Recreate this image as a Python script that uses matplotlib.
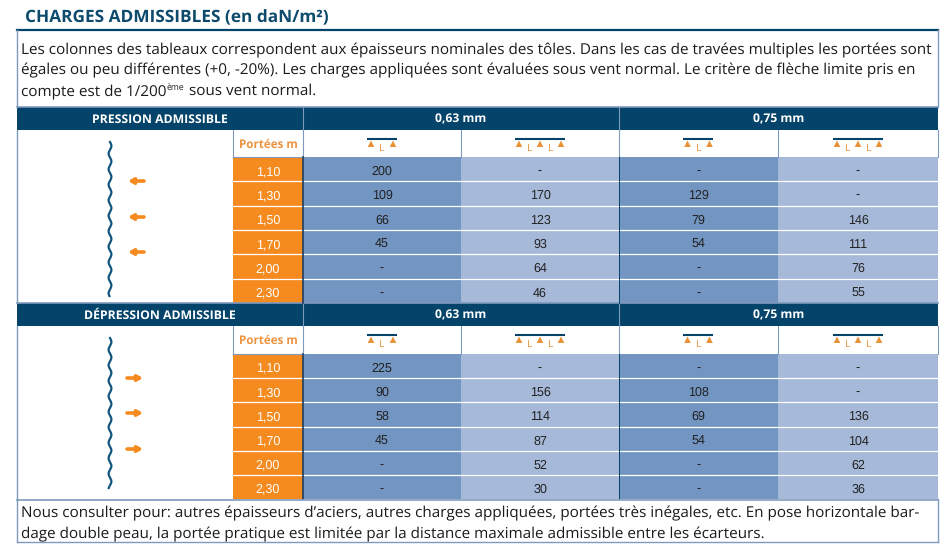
import matplotlib
matplotlib.use('Agg')
import matplotlib.pyplot as plt  # Importing the matplotlib library for plotting
import numpy as np  # Importing the numpy library for numerical operations
from matplotlib.patches import Rectangle, Polygon

plt.rcParams['text.hinting'] = 'none'  # Keeps text widths proportional to the font size

# Table contents
spans = ['1,10', '1,30', '1,50', '1,70', '2,00', '2,30']
thicknesses = ['0,63 mm', '0,75 mm']
pression_063_single = ['200', '109', '66', '45', '-', '-']
pression_063_multi = ['-', '170', '123', '93', '64', '46']
pression_075_single = ['-', '129', '79', '54', '-', '-']
pression_075_multi = ['-', '-', '146', '111', '76', '55']
depression_063_single = ['225', '90', '58', '45', '-', '-']
depression_063_multi = ['-', '156', '114', '87', '52', '30']
depression_075_single = ['-', '108', '69', '54', '-', '-']
depression_075_multi = ['-', '-', '136', '104', '62', '36']

title = 'CHARGES ADMISSIBLES (en daN/m²)'
intro = ['Les colonnes des tableaux correspondent aux épaisseurs nominales des tôles. Dans les cas de travées multiples les portées sont',
         'égales ou peu différentes (+0, -20%). Les charges appliquées sont évaluées sous vent normal. Le critère de flèche limite pris en']
intro_last = ['compte est de 1/200', 'ème', 'sous vent normal.']
footer = ['Nous consulter pour: autres épaisseurs d’aciers, autres charges appliquées, portées très inégales, etc. En pose horizontale bar-',
          'dage double peau, la portée pratique est limitée par la distance maximale admissible entre les écarteurs.']

NAVY = '#04436a'
ORANGE = '#f58a1f'
DARK_CELL = '#7295c1'
LIGHT_CELL = '#a6b9d9'
EDGE = '#7f9abd'
FONT = 'Open Sans'
DIGITS = 'Liberation Sans'
BODY_SIZE = 10.95

# Column edges in pixels
col_x = [17.5, 233, 303, 461, 619, 778, 938]

# One axes over the whole figure, working in image pixels
fig = plt.figure(figsize=(9.49, 5.56), dpi=100)
ax = fig.add_axes([0, 0, 1, 1])
ax.set_xlim(0, 949)
ax.set_ylim(556, 0)
ax.axis('off')


def rect(x0, y0, x1, y1, color):
    ax.add_patch(Rectangle((x0, y0), x1 - x0, y1 - y0, facecolor=color, edgecolor='none', zorder=1))


def support_icon(cx, y, n_spans):
    # Beam with orange supports and the L marks under it
    half = 15 if n_spans == 1 else 25
    ax.plot([cx - half, cx + half], [y, y], color=NAVY, lw=1.5, zorder=3, solid_capstyle='butt')
    step = 2 * (half - 4) / n_spans
    for i in range(n_spans + 1):
        px = cx - half + 4 + i * step
        ax.add_patch(Polygon([[px - 3.3, y + 8.5], [px + 3.3, y + 8.5], [px, y + 2]], facecolor='#e8923a', edgecolor='none', zorder=3))
        if i < n_spans:
            ax.text(px + step / 2, y + 9.5, 'L', color='#e8923a', fontsize=7.5, family=FONT, ha='center', va='center')


def block(top, row_h, label, columns, arrow_ys, arrow_dir, wave_top, wave_bottom):
    head_bottom = top + 23
    sub_bottom = top + 51 if arrow_dir > 0 else top + 50
    # Navy header strip
    rect(col_x[0], top, col_x[-1], head_bottom, NAVY)
    ax.text((col_x[0] + col_x[2]) / 2, top + 12.5, label, color='white', fontsize=8.85, fontweight='bold', family=FONT, ha='center', va='center')
    for i, name in enumerate(thicknesses):
        ax.text((col_x[2 + 2 * i] + col_x[4 + 2 * i]) / 2, top + 12.5, name, color='white', fontsize=8.7, fontweight='bold', family=FONT, ha='center', va='center')
    ax.plot([col_x[0], col_x[-1]], [top, top], color=EDGE, lw=1.2, zorder=2)
    ax.plot([col_x[2], col_x[2]], [top, head_bottom], color=EDGE, lw=0.8, zorder=2)
    ax.plot([col_x[4], col_x[4]], [top, head_bottom], color=EDGE, lw=0.8, zorder=2)

    # Sub header with the span label and the support icons
    ax.text((col_x[1] + col_x[2]) / 2, (head_bottom + sub_bottom) / 2 + 1, 'Portées m', color='#ee9440', fontsize=8.4, fontweight='bold', family=FONT, ha='center', va='center')
    for x in col_x[1:]:
        ax.plot([x, x], [head_bottom, sub_bottom], color=EDGE, lw=0.8, zorder=2)
    ax.plot([col_x[0], col_x[0]], [head_bottom, sub_bottom + 6 * row_h], color=EDGE, lw=1, zorder=2)
    ax.plot([col_x[1], col_x[2]], [sub_bottom, sub_bottom], color=EDGE, lw=0.8, zorder=2)
    for j in range(4):
        support_icon((col_x[2 + j] + col_x[3 + j]) / 2, head_bottom + 8.5, 1 if j % 2 == 0 else 2)

    # Orange span column and data cells
    for r, span in enumerate(spans):
        y0 = sub_bottom + r * row_h
        y1 = y0 + row_h
        rect(col_x[1], y0, col_x[2], y1, ORANGE)
        ax.text((col_x[1] + col_x[2]) / 2, (y0 + y1) / 2 + 1, span, color='white', fontsize=9, family=DIGITS, ha='center', va='center_baseline', zorder=4)
        for j, values in enumerate(columns):
            rect(col_x[2 + j], y0, col_x[3 + j], y1, DARK_CELL if j % 2 == 0 else LIGHT_CELL)
            ax.text((col_x[2 + j] + col_x[3 + j]) / 2, (y0 + y1) / 2 + 1, values[r], color='#222222', fontsize=9, family=DIGITS, ha='center', va='center_baseline', zorder=4)
        if r > 0:
            ax.plot([col_x[1], col_x[-1]], [y0, y0], color='white', lw=0.9, zorder=3)
    # Vertical rules between cells
    table_bottom = sub_bottom + 6 * row_h
    ax.plot([col_x[2], col_x[2]], [sub_bottom, table_bottom], color='#1f3f5f', lw=1.2, zorder=3)
    ax.plot([col_x[4], col_x[4]], [sub_bottom, table_bottom], color=NAVY, lw=0.7, zorder=3)

    # Corrugated sheet seen edge on
    wy = np.linspace(wave_top, wave_bottom, 400)
    ax.plot(110 + 1.4 * np.sin(2 * np.pi * (wy - wave_top) / 15.5), wy, color='#11557e', lw=1.6, zorder=3)
    # Wind arrows
    for ay in arrow_ys:
        tail, tip = (144, 128) if arrow_dir < 0 else (127, 143)
        ax.annotate('', xy=(tip, ay), xytext=(tail, ay),
                    arrowprops=dict(arrowstyle='-|>,head_width=0.16,head_length=0.28', color=ORANGE, lw=2.6, shrinkA=0, shrinkB=0))


# Title and top rule
ax.text(25, 17.5, title, color='#0d4a6c', fontsize=12.4, fontweight='bold', family=FONT, va='center')
ax.plot([17, 938], [30, 30], color=NAVY, lw=1.6)

# Intro text box
ax.plot([17.5, 17.5], [30, 107], color=EDGE, lw=1)
ax.plot([938, 938], [30, 107], color=EDGE, lw=1)
for line, y in zip(intro, [49, 69]):
    ax.text(21, y + 1, line, color='#1a1a1a', fontsize=BODY_SIZE, family=FONT, va='center')

# Last intro line, with the small raised "ème" placed after the measured text
renderer = fig.canvas.get_renderer()
part = ax.text(21, 95, intro_last[0], color='#1a1a1a', fontsize=BODY_SIZE, family=FONT, va='baseline')
end_x = part.get_window_extent(renderer).x1
sup = ax.text(end_x + 0.5, 89.5, intro_last[1], color='#1a1a1a', fontsize=6.2, family=FONT, va='baseline')
end_x = sup.get_window_extent(renderer).x1
ax.text(end_x + 4, 95, intro_last[2], color='#1a1a1a', fontsize=BODY_SIZE, family=FONT, va='baseline')

block(107, 24.35, 'PRESSION ADMISSIBLE',
      [pression_063_single, pression_063_multi, pression_075_single, pression_075_multi],
      [181, 217, 252], -1, 142, 296)
block(303, 24.2, 'DÉPRESSION ADMISSIBLE',
      [depression_063_single, depression_063_multi, depression_075_single, depression_075_multi],
      [378, 413, 449], 1, 338, 488)

# Footer box
ax.plot([17, 938], [499.5, 499.5], color=EDGE, lw=1.2, zorder=5)
ax.plot([17, 938], [542, 542], color=EDGE, lw=1)
ax.plot([17.5, 17.5], [499, 542], color=EDGE, lw=1)
ax.plot([938, 938], [499, 542], color=EDGE, lw=1)
for line, y in zip(footer, [512, 533]):
    ax.text(21, y + 1.5, line, color='#1a1a1a', fontsize=BODY_SIZE, family=FONT, va='center')

fig.savefig('out.png', dpi=100)  # Saving the figure at 949x556 pixels
